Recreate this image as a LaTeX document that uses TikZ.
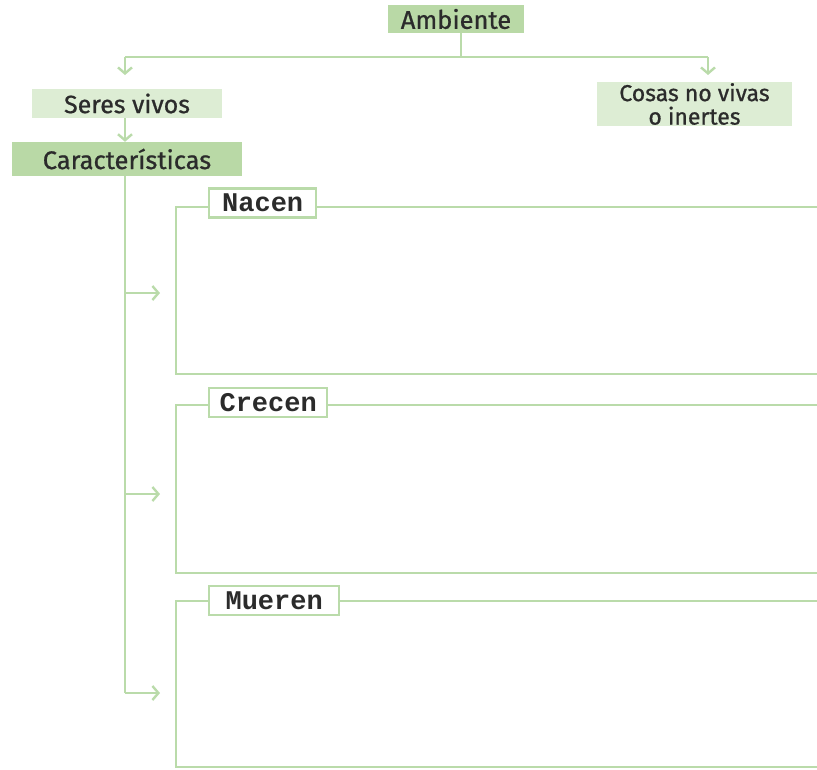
\documentclass[tikz,border=0pt]{standalone}
\usepackage{fontspec}
\setmainfont{Fira Sans}[FakeBold=0.8]
\newfontfamily\medfont{Fira Sans}[FakeBold=0.8]
\newfontfamily\labfont{Liberation Mono}
\usetikzlibrary{arrows.meta}
\definecolor{gline}{HTML}{BADBAA}
\definecolor{gdark}{HTML}{B9D9A6}
\definecolor{glight}{HTML}{DDEDD4}
\definecolor{txt}{HTML}{2B2B2B}
\tikzset{
  conn/.style={draw=gline, line width=2.6pt},
  arr/.style={conn, -{Straight Barb[length=6pt,width=14pt,line width=2.4pt]}},
  darkbox/.style={fill=gdark, text=txt, inner sep=0pt, font=\medfont\fontsize{25.5}{26}\selectfont},
  lightbox/.style={fill=glight, text=txt, inner sep=0pt, align=center, font=\medfont\fontsize{25}{26}\selectfont},
  lightbox2/.style={fill=glight, text=txt, inner sep=0pt, align=center, font=\medfont\fontsize{23}{23.5}\selectfont},
  labbox/.style={draw=gline, line width=2.4pt, fill=white, text=txt, inner sep=0pt, anchor=west,
     minimum height=29pt, font=\labfont\bfseries\fontsize{27}{28}\selectfont},
  panel/.style={draw=gline, line width=2.4pt}
}
\begin{document}
\begin{tikzpicture}[x=1pt,y=-1pt]
\useasboundingbox (0,0) rectangle (817,769);
% top boxes
\node[darkbox, minimum width=136pt, minimum height=28pt] (amb) at (456,19) {Ambiente};
\node[lightbox, minimum width=190pt, minimum height=29pt] (sv) at (127,103.5) {Seres vivos};
\node[lightbox2, minimum width=195pt, minimum height=44pt] (cnv) at (694.5,104) {Cosas no vivas\\o inertes};
\node[darkbox, minimum width=230pt, minimum height=34pt] (car) at (127,159) {Características};
% connectors
\coordinate (jl) at (125,57);
\coordinate (jr) at (708,57);
\draw[conn] (amb.south -| 461,0) |- (jl);
\draw[conn] (461,57) -- (jr);
\draw[arr, shorten >=-2pt] (jl) -- (125,73);
\draw[arr, shorten >=-2pt] (jr) -- (708,73);
\draw[arr] (sv.south -| jl) -- (car.north -| jl);
% trunk
\coordinate (t0) at (125,176);
\coordinate (b1) at (160,293);
\coordinate (b2) at (160,494);
\coordinate (b3) at (160,693);
\draw[conn] (t0) -- (125,693);
\draw[arr] (125,293) -- (b1);
\draw[arr] (125,494) -- (b2);
\draw[arr] (125,693) -- (b3);
% panels
\draw[panel] (817,207) -| (176,374) -- (817,374);
\draw[panel] (817,405) -| (176,573) -- (817,573);
\draw[panel] (817,601) -| (176,767) -- (817,767);
\node[labbox, minimum width=107pt] (nac) at (208,203) {Nacen};
\node[labbox, minimum width=118pt] (cre) at (208,402.5) {Crecen};
\node[labbox, minimum width=130pt] (mue) at (208,600.5) {Mueren};
\end{tikzpicture}
\end{document}
